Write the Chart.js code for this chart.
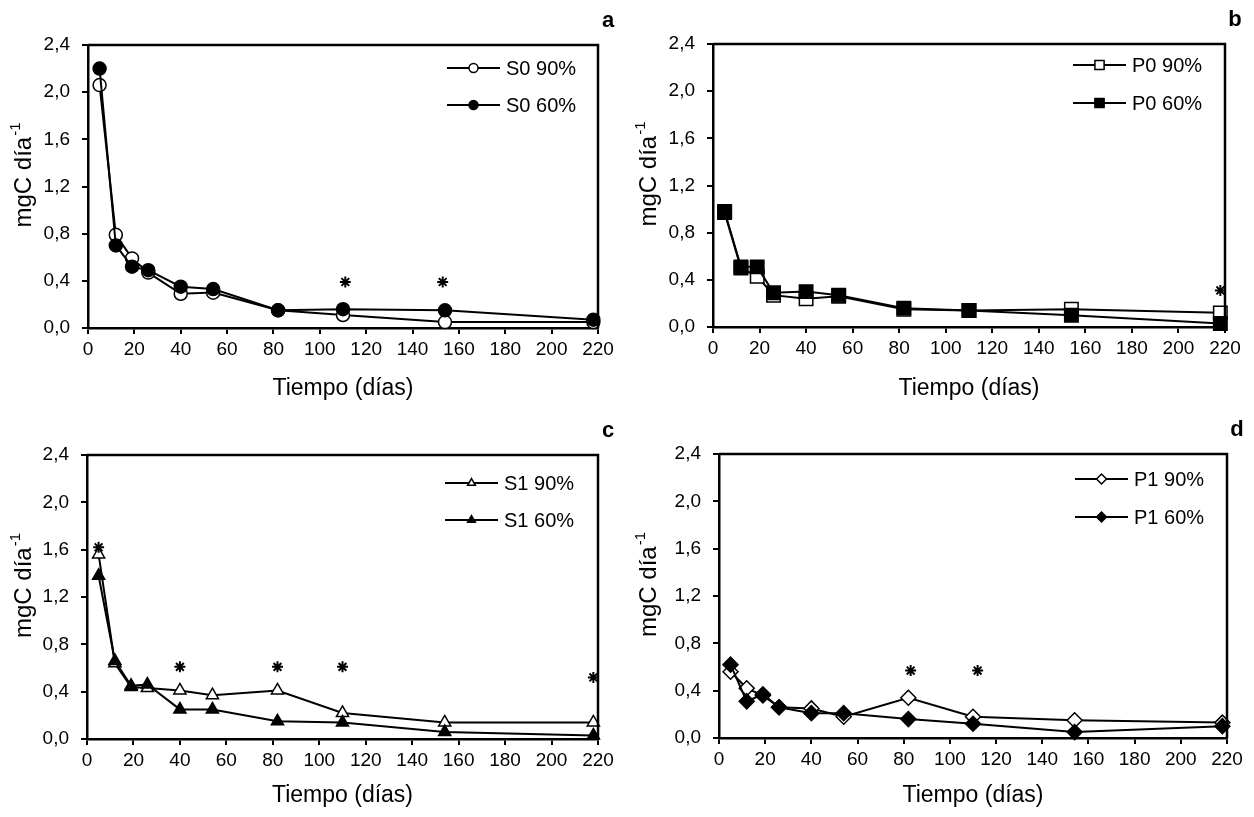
<!DOCTYPE html>
<html>
<head>
<meta charset="utf-8">
<script src="https://cdn.jsdelivr.net/npm/chart.js@4.4.1/dist/chart.umd.min.js"></script>
<style>
  body { margin: 0; background: #fff; }
  #wrap { position: relative; width: 1254px; height: 817px; }
  canvas { position: absolute; }
</style>
</head>
<body>
<div id="wrap">
  <canvas id="chartA" width="627" height="410" style="left:0;top:0"></canvas>
  <canvas id="chartB" width="627" height="410" style="left:627px;top:0"></canvas>
  <canvas id="chartC" width="627" height="407" style="left:0;top:410px"></canvas>
  <canvas id="chartD" width="627" height="407" style="left:627px;top:410px"></canvas>
</div>
<script>
// dias de muestreo (comunes a los 4 paneles)
const dias = [5, 12, 19, 26, 40, 54, 82, 110, 154, 218];

// mgC dia-1
const s0_90 = [2.06, 0.79, 0.59, 0.47, 0.29, 0.30, 0.15, 0.11, 0.05, 0.05];
const s0_60 = [2.20, 0.70, 0.52, 0.49, 0.35, 0.33, 0.15, 0.16, 0.15, 0.07];
const p0_90 = [0.97, 0.50, 0.43, 0.27, 0.24, 0.26, 0.15, 0.14, 0.15, 0.12];
const p0_60 = [0.98, 0.51, 0.51, 0.29, 0.30, 0.27, 0.16, 0.14, 0.10, 0.03];
const s1_90 = [1.56, 0.64, 0.44, 0.43, 0.41, 0.37, 0.41, 0.22, 0.14, 0.14];
const s1_60 = [1.38, 0.66, 0.45, 0.46, 0.25, 0.25, 0.15, 0.14, 0.06, 0.03];
const p1_90 = [0.56, 0.42, 0.36, 0.26, 0.25, 0.18, 0.34, 0.18, 0.15, 0.13];
const p1_60 = [0.62, 0.31, 0.37, 0.26, 0.21, 0.21, 0.16, 0.12, 0.05, 0.10];

// asteriscos (diferencias significativas)
const estrellasA_x = [111, 153];
const estrellasA_y = [0.39, 0.39];
const estrellasB_x = [218];
const estrellasB_y = [0.31];
const estrellasC_x = [5, 40, 82, 110, 218];
const estrellasC_y = [1.62, 0.61, 0.61, 0.61, 0.52];
const estrellasD_x = [83, 112];
const estrellasD_y = [0.57, 0.57];

// ejes
const xTicks = [0, 20, 40, 60, 80, 100, 120, 140, 160, 180, 200, 220];
const yTicks = [0, 0.4, 0.8, 1.2, 1.6, 2.0, 2.4];
const yTickLabels = ['0,0', '0,4', '0,8', '1,2', '1,6', '2,0', '2,4'];

const fuente = "'Liberation Sans', Arial, sans-serif";
Chart.defaults.font.family = fuente;
Chart.defaults.color = '#000';

const paneles = [
  { id: 'chartA', letra: 'a', s90: s0_90, s60: s0_60, nombres: ['S0 90%', 'S0 60%'],
    forma: 'circle', radio: 6.5, radioLey: 4.5, ex: estrellasA_x, ey: estrellasA_y,
    yW: 88, padR: 29, padT: 45, xH: 82, leyX: 151, leyY: [23, 60], tituloX: 23 },
  { id: 'chartB', letra: 'b', s90: p0_90, s60: p0_60, nombres: ['P0 90%', 'P0 60%'],
    forma: 'rect', radio: 9.5, radioLey: 6.5, ex: estrellasB_x, ey: estrellasB_y,
    yW: 86, padR: 29, padT: 44, xH: 83, leyX: 152, leyY: [21, 59], tituloX: 21 },
  { id: 'chartC', letra: 'c', s90: s1_90, s60: s1_60, nombres: ['S1 90%', 'S1 60%'],
    forma: 'triangle', radio: 7, radioLey: 4.5, ex: estrellasC_x, ey: estrellasC_y,
    yW: 87, padR: 29, padT: 45, xH: 78, leyX: 153, leyY: [28, 65], tituloX: 23 },
  { id: 'chartD', letra: 'd', s90: p1_90, s60: p1_60, nombres: ['P1 90%', 'P1 60%'],
    forma: 'rectRot', radio: 7.5, radioLey: 5, ex: estrellasD_x, ey: estrellasD_y,
    yW: 92, padR: 27, padT: 44, xH: 79, leyX: 152, leyY: [25, 63], tituloX: 21 }
];

function marcador(ctx, forma, r, x, y, relleno) {
  ctx.fillStyle = relleno;
  ctx.strokeStyle = '#000';
  ctx.lineWidth = 1.5;
  if (Chart.helpers && Chart.helpers.drawPoint) {
    Chart.helpers.drawPoint(ctx, { pointStyle: forma, radius: r, rotation: 0, borderWidth: 1.5 }, x, y);
  } else {
    ctx.beginPath();
    ctx.arc(x, y, r, 0, Math.PI * 2);
    ctx.fill();
    ctx.stroke();
  }
}

// marco, letra del panel, titulo del eje y, leyenda
const decoPanel = {
  id: 'decoPanel',
  afterDraw(chart, args, opts) {
    const ctx = chart.ctx;
    const { left, right, top, bottom } = chart.chartArea;
    ctx.save();
    ctx.strokeStyle = '#000';
    ctx.lineWidth = 2.5;
    ctx.beginPath();
    ctx.moveTo(left, top);
    ctx.lineTo(right, top);
    ctx.lineTo(right, bottom);
    ctx.stroke();

    // letra
    ctx.fillStyle = '#000';
    ctx.font = 'bold 22px ' + fuente;
    ctx.textAlign = 'center';
    ctx.textBaseline = 'middle';
    ctx.fillText(opts.letra, right + 10, top - 24);

    // titulo eje y: mgC dia^-1
    ctx.save();
    ctx.translate(opts.tituloX, (top + bottom) / 2 - 11);
    ctx.rotate(-Math.PI / 2);
    ctx.font = '24px ' + fuente;
    const principal = 'mgC día';
    const wP = ctx.measureText(principal).width;
    ctx.font = '15px ' + fuente;
    const sup = '-1';
    const wS = ctx.measureText(sup).width;
    const x0 = -(wP + wS) / 2;
    ctx.textAlign = 'left';
    ctx.textBaseline = 'alphabetic';
    ctx.font = '24px ' + fuente;
    ctx.fillText(principal, x0, 8);
    ctx.font = '15px ' + fuente;
    ctx.fillText(sup, x0 + wP + 1, -3);
    ctx.restore();

    // leyenda
    const rellenos = ['#fff', '#000'];
    opts.nombres.forEach((nombre, i) => {
      const y = top + opts.leyY[i];
      const x1 = right - opts.leyX;
      const x2 = x1 + 53;
      ctx.strokeStyle = '#000';
      ctx.lineWidth = 2;
      ctx.beginPath();
      ctx.moveTo(x1, y);
      ctx.lineTo(x2, y);
      ctx.stroke();
      marcador(ctx, opts.forma, opts.radioLey, (x1 + x2) / 2, y, rellenos[i]);
      ctx.fillStyle = '#000';
      ctx.font = '20px ' + fuente;
      ctx.textAlign = 'left';
      ctx.textBaseline = 'middle';
      ctx.fillText(nombre, x2 + 6, y + 1);
    });
    ctx.restore();
  }
};

paneles.forEach(p => {
  const ctx = document.getElementById(p.id).getContext('2d');
  new Chart(ctx, {
    type: 'line',
    data: {
      datasets: [
        {
          label: p.nombres[1],
          data: dias.map((d, i) => ({ x: d, y: p.s60[i] })),
          borderColor: '#000',
          borderWidth: 2,
          tension: 0,
          pointStyle: p.forma,
          pointRadius: p.radio,
          pointBorderWidth: 1.5,
          pointBorderColor: '#000',
          pointBackgroundColor: '#000',
          clip: false,
          order: 1
        },
        {
          label: p.nombres[0],
          data: dias.map((d, i) => ({ x: d, y: p.s90[i] })),
          borderColor: '#000',
          borderWidth: 2,
          tension: 0,
          pointStyle: p.forma,
          pointRadius: p.radio,
          pointBorderWidth: 1.5,
          pointBorderColor: '#000',
          pointBackgroundColor: '#fff',
          clip: false,
          order: 2
        },
        {
          label: '*',
          data: p.ex.map((d, i) => ({ x: d, y: p.ey[i] })),
          showLine: false,
          pointStyle: 'star',
          pointRadius: 5.5,
          pointBorderWidth: 2,
          pointBorderColor: '#000',
          clip: false,
          order: 0
        }
      ]
    },
    options: {
      responsive: false,
      animation: false,
      events: [],
      layout: { padding: { left: 0, right: p.padR, top: p.padT, bottom: 0 } },
      plugins: {
        legend: { display: false },
        tooltip: { enabled: false },
        decoPanel: p
      },
      scales: {
        x: {
          type: 'linear',
          min: 0,
          max: 220,
          afterBuildTicks: ax => { ax.ticks = xTicks.map(v => ({ value: v })); },
          afterFit: ax => { ax.height = p.xH; },
          ticks: { font: { size: 19 }, padding: 4, maxRotation: 0, autoSkip: false, color: '#000' },
          grid: { drawOnChartArea: false, drawTicks: true, tickLength: 6, color: '#000', lineWidth: 2 },
          border: { color: '#000', width: 2.5 },
          title: { display: true, text: 'Tiempo (días)', font: { size: 23 }, color: '#000', padding: { top: 0, bottom: 8 } }
        },
        y: {
          min: 0,
          max: 2.4,
          afterBuildTicks: ax => { ax.ticks = yTicks.map(v => ({ value: v })); },
          afterFit: ax => { ax.width = p.yW; },
          ticks: {
            font: { size: 19 },
            padding: 12,
            color: '#000',
            callback: v => yTickLabels[yTicks.findIndex(t => Math.abs(t - v) < 1e-6)]
          },
          grid: { drawOnChartArea: false, drawTicks: true, tickLength: 6, color: '#000', lineWidth: 2 },
          border: { color: '#000', width: 2.5 }
        }
      }
    },
    plugins: [decoPanel]
  });
});
</script>
</body>
</html>
